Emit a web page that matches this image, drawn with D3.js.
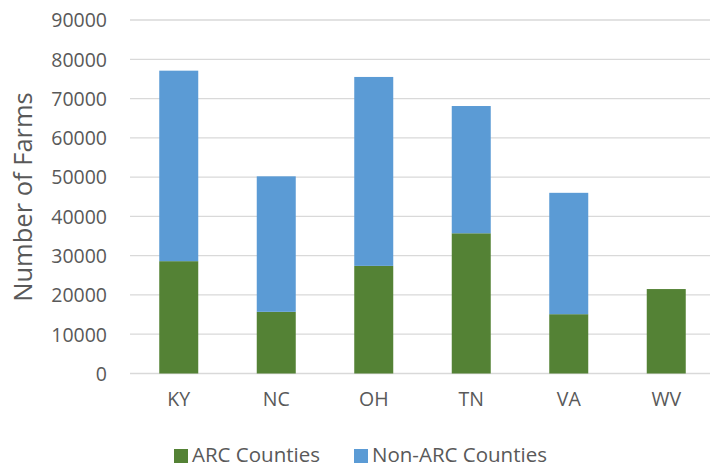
<!DOCTYPE html>
<html><head><meta charset="utf-8">
<script src="https://cdn.jsdelivr.net/npm/d3@7"></script>
<style>body{margin:0;background:#fff;} svg{display:block;}</style>
</head><body>
<svg id="c" width="710" height="467"></svg>
<script>
const states = ["KY","NC","OH","TN","VA","WV"];
const arcCounties = [28600, 15700, 27400, 35700, 15100, 21500];
const nonArcCounties = [48500, 34500, 48100, 32400, 30900, 0];
const seriesNames = ["ARC Counties","Non-ARC Counties"];
const seriesColors = ["#548235","#5b9bd5"];
const yTicks = [0,10000,20000,30000,40000,50000,60000,70000,80000,90000];

(function(){
const font = "'Open Sans', 'Liberation Sans', sans-serif";
const svg = d3.select("#c");
const pLeft = 130, pRight = 715, pTop = 20, pBottom = 373.5;

const x = d3.scaleBand().domain(states).range([pLeft, pRight]).paddingInner(0.6).paddingOuter(0.3);
const y = d3.scaleLinear().domain([0, 90000]).range([pBottom, pTop]);

// gridlines
svg.append("g").selectAll("line").data(yTicks).join("line")
  .attr("x1", pLeft).attr("x2", pRight)
  .attr("y1", d => y(d)).attr("y2", d => y(d))
  .attr("stroke", "#d9d9d9").attr("stroke-width", 1.3);

// y axis labels
const yAxis = d3.axisLeft(y).tickValues(yTicks).tickSize(0).tickPadding(0).tickFormat(d3.format("d"));
const ya = svg.append("g").attr("transform", `translate(${107},0)`).call(yAxis);
ya.select(".domain").remove();
ya.selectAll("text").attr("font-family", font).attr("font-size", 19.5).attr("fill", "#595959").attr("dy", "0.35em");

// x axis labels
const xAxis = d3.axisBottom(x).tickSize(0).tickPadding(0);
const xa = svg.append("g").attr("transform", `translate(0,${392})`).call(xAxis);
xa.select(".domain").remove();
xa.selectAll("text").attr("font-family", font).attr("font-size", 19.5).attr("fill", "#595959").attr("dy", "0.71em");

// stacked bars
const rows = states.map((s,i) => ({state: s, arc: arcCounties[i], non: nonArcCounties[i]}));
const stack = d3.stack().keys(["arc","non"])(rows);
svg.append("g").selectAll("g").data(stack).join("g")
  .attr("fill", (d,i) => seriesColors[i])
  .selectAll("rect").data(d => d.filter(p => p[1] - p[0] > 0)).join("rect")
  .attr("x", d => x(d.data.state))
  .attr("width", x.bandwidth())
  .attr("y", d => y(d[1]))
  .attr("height", d => y(d[0]) - y(d[1]));

// y title
svg.append("text")
  .attr("transform", `translate(32,${197}) rotate(-90)`)
  .attr("text-anchor", "middle")
  .attr("font-family", font).attr("font-size", 25.5).attr("fill", "#595959")
  .text("Number of Farms");

// legend
const legX = [174, 354];
const lg = svg.append("g").selectAll("g").data(seriesNames).join("g")
  .attr("transform", (d,i) => `translate(${legX[i]},${449})`);
lg.append("rect").attr("width", 14).attr("height", 14).attr("fill", (d,i) => seriesColors[i]);
lg.append("text").attr("x", 18).attr("y", 12.5).attr("font-family", font).attr("font-size", 20.5)
  .attr("fill", "#595959").text(d => d);
})();
</script>
</body></html>
